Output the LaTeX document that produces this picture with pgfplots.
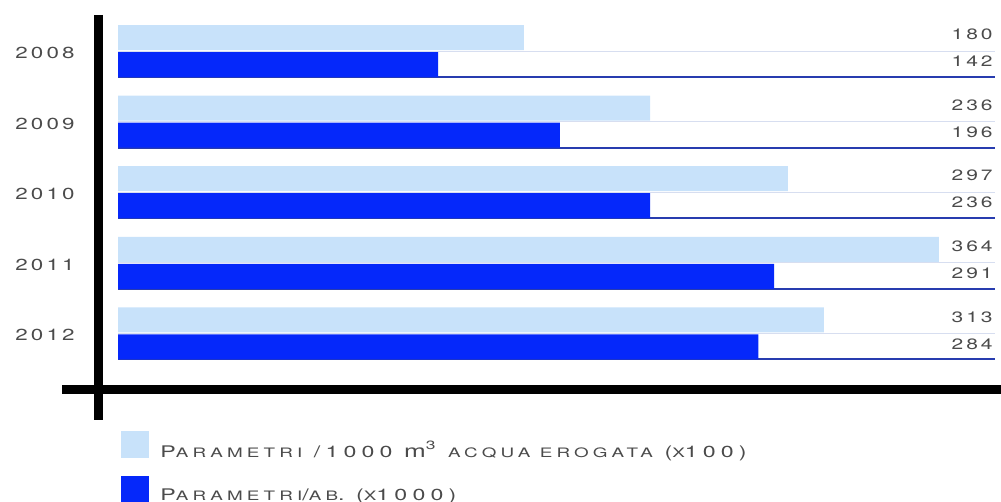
\documentclass[border=0pt]{standalone}
\usepackage{pgfplots}
\usepackage{pgfplotstable}
\pgfplotsset{compat=1.18}
\usepackage{fontspec}
\setmainfont{TeX Gyre Heros}
\newfontfamily\widefont[FakeStretch=1.4,LetterSpace=20]{TeX Gyre Heros}
\newfontfamily\legendfont[FakeStretch=1.45,LetterSpace=32]{TeX Gyre Heros}
\definecolor{lightbar}{RGB}{200,226,250}
\definecolor{darkbar}{RGB}{5,40,250}
\definecolor{darkrule}{RGB}{40,60,175}
\definecolor{lightrule}{RGB}{215,222,240}
\definecolor{txt}{RGB}{75,75,75}
\newcommand\scs{\fontsize{6.5}{8}\selectfont}

\pgfplotstableread{
year light dark
2008 180 142
2009 236 196
2010 297 236
2011 364 291
2012 313 284
}\datatable

\begin{document}
\begin{tikzpicture}
\path[use as bounding box] (0,0) rectangle (500.5pt,251pt);
\begin{axis}[
  at={(0,0)}, anchor=south west,
  scale only axis, width=500.5pt, height=251pt,
  xmin=-52.33, xmax=391.57,
  ymin=2007.2776, ymax=2014.388, y dir=reverse,
  xbar, bar width=12.5pt,
  axis line style={draw=none},
  xtick=\empty,
  ytick={2008,...,2012}, yticklabels={2008,2009,2010,2011,2012},
  major tick length=0pt,
  yticklabel style={anchor=center, xshift=22.5pt, yshift=-1pt,
    font=\widefont\fontsize{8}{9}\selectfont, text=txt},
  clip=false,
  /pgf/number format/assume math mode=true,
  legend style={at={(axis cs:1.33,2013.382)}, anchor=north west,
    draw=none, fill=none, inner sep=0pt, row sep=8pt, column sep=5.5pt,
    nodes={inner sep=0pt, text=txt}, font=\legendfont\fontsize{8}{9}\selectfont},
  legend cell align=left,
  legend image code/.code={\fill[#1] (0pt,-3.75pt) rectangle (14pt,9.75pt);},
  value label/.style={nodes near coords,
    visualization depends on={rawx \as \xval},
    nodes near coords style={anchor=east, text=txt,
      font=\widefont\fontsize{7.5}{8}\selectfont,
      xshift={(391-\xval)*1.1275pt}, yshift=1.5pt}},
]
% thin rules beneath each bar, running to the value column
\pgfplotsinvokeforeach{2008,...,2012}{
  \draw[lightrule, line width=0.5pt] (axis cs:0,#1) -- (axis cs:388.9,#1);
  \draw[darkrule, line width=1pt] ([yshift=-13pt]axis cs:0,#1) -- ([yshift=-13pt]axis cs:388.9,#1);
}
\addplot[fill=lightbar, draw=none, bar shift=6.75pt, forget plot, value label]
  table[x=light, y=year]{\datatable};
\addplot[fill=darkbar, draw=none, bar shift=-6.75pt, forget plot, value label]
  table[x=dark, y=year]{\datatable};
\addlegendimage{fill=lightbar, draw=none}
\addlegendentry{P{\scs ARAMETRI} /1000 {\fontsize{9}{9}\selectfont m\textsuperscript{3}} {\scs ACQUA EROGATA} ({\scs X}100)}
\addlegendimage{fill=darkbar, draw=none}
\addlegendentry{P{\scs ARAMETRI}/{\scs AB}. ({\scs X}1000)}
% heavy cross-shaped axes
\draw[black, line width=4.5pt] (axis cs:-8.87,2007.49) -- (axis cs:-8.87,2013.227);
\draw[black, line width=4.5pt] (axis cs:-24.8,2012.79) -- (axis cs:391.57,2012.79);
\end{axis}
\end{tikzpicture}
\end{document}
